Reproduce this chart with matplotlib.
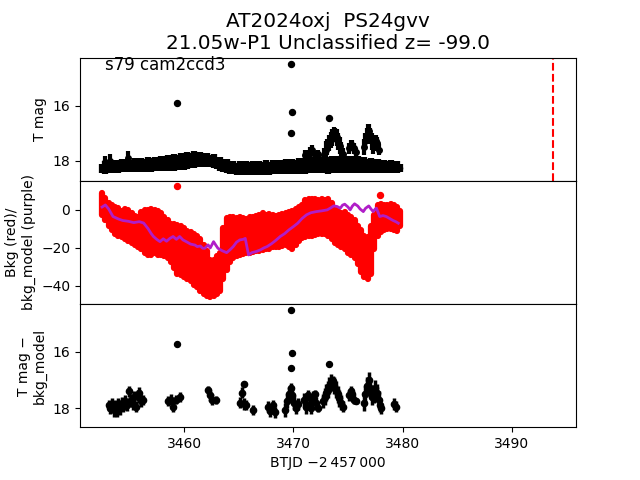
import matplotlib.pyplot as plt

# lightcurve (binned), T mag with errors
t_band = [3452.5, 3452.8, 3453.1, 3453.4, 3453.7, 3454.0, 3454.3, 3454.6, 3454.9, 3455.2,
          3455.5, 3455.8, 3456.1, 3456.4, 3456.7, 3457.0, 3457.3, 3457.6, 3457.9, 3458.2,
          3458.5, 3458.8, 3459.1, 3459.4, 3459.7, 3460.0, 3460.3, 3460.6, 3460.9, 3461.2,
          3461.5, 3461.8, 3462.1, 3462.4, 3462.7, 3463.0, 3463.3, 3463.6, 3463.9, 3464.2,
          3464.5, 3464.8, 3465.1, 3465.4, 3465.7, 3466.0, 3466.3, 3466.6, 3466.9, 3467.2,
          3467.5, 3467.8, 3468.1, 3468.4, 3468.7, 3469.0, 3469.3, 3469.6, 3469.9, 3470.2,
          3470.5, 3470.8, 3471.1, 3471.4, 3471.7, 3472.0, 3472.3, 3472.6, 3472.9, 3473.2,
          3473.5, 3473.8, 3474.1, 3474.4, 3474.7, 3475.0, 3475.3, 3475.6, 3475.9, 3476.2,
          3476.5, 3476.8, 3477.1, 3477.4, 3477.7, 3478.0, 3478.3, 3478.6, 3478.9, 3479.2,
          3479.5, 3479.8]
mag_band = [18.28, 18.24, 18.21, 18.22, 18.19, 18.21, 18.18, 18.19, 18.17, 18.19,
            18.16, 18.18, 18.15, 18.17, 18.14, 18.15, 18.12, 18.13, 18.11, 18.11,
            18.08, 18.09, 18.06, 18.07, 18.03, 18.03, 17.99, 18.00, 17.96, 17.97,
            17.95, 17.97, 17.96, 18.00, 18.01, 18.08, 18.11, 18.18, 18.20, 18.26,
            18.26, 18.29, 18.27, 18.28, 18.27, 18.29, 18.26, 18.28, 18.26, 18.27,
            18.24, 18.27, 18.24, 18.25, 18.23, 18.24, 18.22, 18.23, 18.21, 18.22,
            18.19, 18.21, 18.18, 18.19, 18.16, 18.18, 18.15, 18.16, 18.15, 18.17,
            18.14, 18.16, 18.13, 18.16, 18.13, 18.16, 18.13, 18.16, 18.14, 18.17,
            18.14, 18.18, 18.17, 18.18, 18.18, 18.21, 18.20, 18.23, 18.22, 18.24,
            18.23, 18.26]
err_band = [0.17, 0.23, 0.24, 0.22, 0.23, 0.23, 0.24, 0.23, 0.25, 0.23,
            0.25, 0.23, 0.25, 0.25, 0.26, 0.25, 0.27, 0.26, 0.28, 0.27,
            0.29, 0.28, 0.30, 0.28, 0.30, 0.29, 0.31, 0.28, 0.30, 0.27,
            0.27, 0.24, 0.24, 0.21, 0.24, 0.22, 0.25, 0.23, 0.25, 0.22,
            0.24, 0.22, 0.25, 0.24, 0.25, 0.24, 0.25, 0.24, 0.26, 0.24,
            0.27, 0.24, 0.26, 0.25, 0.27, 0.25, 0.27, 0.25, 0.28, 0.26,
            0.29, 0.26, 0.29, 0.27, 0.30, 0.28, 0.30, 0.29, 0.31, 0.30,
            0.31, 0.28, 0.31, 0.29, 0.31, 0.28, 0.31, 0.29, 0.30, 0.27,
            0.29, 0.26, 0.27, 0.25, 0.26, 0.24, 0.24, 0.21, 0.23, 0.20,
            0.21, 0.14]

# brighter excursions / spikes in the lightcurve
flare_t = [3452.75, 3453.2, 3454.9, 3471.1, 3471.3, 3471.55, 3471.75, 3471.95, 3472.3,
           3472.8, 3472.95, 3473.1, 3473.25, 3473.4, 3473.55, 3473.7, 3473.8, 3473.95,
           3474.1, 3474.25, 3474.4, 3474.5,
           3475.1, 3475.25, 3475.4, 3475.55, 3475.7,
           3476.5, 3476.6, 3476.75, 3476.85, 3476.95, 3477.05, 3477.2, 3477.3,
           3477.45, 3477.55, 3477.65, 3477.8]
flare_mag = [18.05, 18.0, 17.9, 17.8, 17.8, 17.7, 17.62, 17.8, 17.75,
             17.8, 17.6, 17.5, 17.35, 17.25, 17.15, 17.05, 17.02, 17.15,
             17.3, 17.45, 17.6, 17.75,
             17.55, 17.45, 17.42, 17.55, 17.7,
             17.5, 17.3, 17.1, 16.95, 16.93, 17.1, 17.3, 17.5,
             17.45, 17.3, 17.35, 17.6]
flare_err = [0.23, 0.25, 0.26, 0.2, 0.18, 0.2, 0.2, 0.15, 0.15,
             0.25, 0.3, 0.3, 0.3, 0.3, 0.3, 0.28, 0.21, 0.3,
             0.3, 0.3, 0.28, 0.22,
             0.2, 0.2, 0.18, 0.2, 0.15,
             0.3, 0.3, 0.3, 0.27, 0.25, 0.3, 0.3, 0.25,
             0.2, 0.25, 0.22, 0.2]
out_t = [3459.4, 3469.8, 3469.85, 3469.8, 3473.3]
out_mag = [15.9, 14.48, 16.23, 16.98, 16.45]

# background (red) range per bin and background model (purple)
bkg_max = [9.0, 6.5, 3.5, 2.5, 1.5, 1.0, -0.5, 0.5, 0.0, -1.5,
           -3.0, -3.5, -1.0, 0.0, 0.0, 0.5, 0.0, -0.5, -1.5, -3.5,
           -5.5, -7.5, -7.5, -8.0, -8.5, -9.5, -11.0, -11.5, -12.5, -13.5,
           -15.5, -18.5, -21.5, -26.5, -26.5, -24.5, -22.5, -9.5, -4.5, -3.5,
           -4.0, -4.5, -4.0, -4.5, -5.0, -4.0, -3.5, -3.0, -2.5, -1.5,
           -2.5, -2.0, -2.5, -3.0, -2.5, -2.0, -1.5, -1.0, -0.5, 0.5,
           1.5, 2.5, 5.0, 5.5, 5.5, 5.5, 5.0, 5.5, 5.0, 5.5,
           3.5, 0.5, -0.5, -1.5, -1.0, -2.5, -3.5, -5.5, -8.5, -10.5,
           -13.5, -14.5, -8.5, -2.5, 2.5, 3.0, 2.5, 2.5, 3.0, 2.5,
           1.5, -0.5]
bkg_min = [-2.5, -5.5, -8.5, -10.5, -12.5, -13.5, -14.5, -15.5, -16.5, -17.5,
           -18.5, -19.5, -20.5, -22.5, -23.5, -23.5, -22.5, -23.5, -23.5, -24.5,
           -25.5, -27.5, -30.5, -33.5, -34.5, -35.5, -36.5, -37.5, -39.5, -40.5,
           -42.5, -44.5, -45.5, -46.0, -45.5, -44.5, -42.5, -36.5, -31.5, -27.5,
           -25.5, -24.5, -23.5, -23.0, -22.5, -22.5, -22.0, -21.5, -21.5, -21.0,
           -20.5, -20.5, -19.5, -19.5, -19.5, -19.0, -18.5, -19.5, -20.5, -18.5,
           -16.5, -15.0, -14.5, -13.5, -13.5, -13.0, -12.5, -12.5, -12.5, -13.5,
           -15.5, -17.5, -18.5, -19.5, -20.5, -22.5, -23.5, -25.5, -28.5, -32.5,
           -35.5, -36.5, -33.5, -20.5, -13.5, -11.5, -10.5, -10.0, -10.0, -10.5,
           -11.0, -8.5]
bkg_out_t = [3459.4, 3477.9]
bkg_out = [12.5, 7.9]

model_t = [3452.5, 3452.8, 3453.1, 3453.5, 3454.0, 3454.4, 3454.9, 3455.4, 3455.9, 3456.3,
           3456.7, 3457.0, 3457.2, 3457.5, 3457.8, 3458.1, 3458.4, 3458.7, 3459.0, 3459.3,
           3459.6, 3459.9, 3460.2, 3460.6, 3461.0, 3461.2, 3461.5, 3461.7, 3461.9, 3462.2,
           3462.4, 3462.7, 3462.9, 3463.1, 3463.5, 3463.9, 3464.2, 3464.5, 3464.8, 3465.1,
           3465.4, 3465.6, 3465.9, 3466.2, 3466.6, 3467.0, 3467.3, 3467.6, 3468.0, 3468.4,
           3468.8, 3469.2, 3469.6, 3470.0, 3470.4, 3470.8, 3471.2, 3471.6, 3472.1, 3472.6,
           3473.1, 3473.4, 3473.7, 3474.0, 3474.3, 3474.5, 3474.7, 3475.0, 3475.2, 3475.4,
           3475.6, 3475.9, 3476.1, 3476.4, 3476.6, 3476.9, 3477.1, 3477.3, 3477.5, 3477.6,
           3477.8, 3477.9, 3478.2, 3478.5, 3478.8, 3479.1, 3479.4, 3479.6]
model_bkg = [1.5, 2.6, 0.5, -3.5, -4.8, -5.6, -6.0, -6.7, -6.2, -6.9,
             -9.8, -12.5, -14.0, -15.5, -16.7, -15.2, -16.5, -15.0, -14.0, -15.5,
             -14.0, -15.8, -16.7, -18.0, -18.5, -19.3, -19.0, -20.2, -20.2, -18.4,
             -20.0, -16.7, -18.5, -20.2, -21.5, -22.5, -21.0, -19.3, -17.0, -15.8,
             -15.5, -15.0, -23.7, -22.5, -21.9, -21.0, -20.0, -19.3, -17.8, -16.0,
             -14.0, -12.5, -10.5, -8.8, -7.0, -4.5, -2.6, -1.5, -0.9, -0.5,
             0.0, 1.0, 2.1, 1.8, 0.9, 2.5, 3.0, 1.5, 0.0, 2.0,
             3.2, 2.0, 0.5, -0.9, 0.8, 2.1, 0.5, -0.9, 0.5, 0.9,
             -2.0, -3.5, -3.0, -3.5, -4.5, -5.5, -6.3, -7.0]

# T mag - bkg_model
diff_t = [3453.1, 3453.25, 3453.4, 3453.55, 3453.7, 3453.85, 3454.0, 3454.15, 3454.3, 3454.45,
          3454.6, 3454.75, 3455.0, 3455.15, 3455.3, 3455.45, 3455.6, 3455.75, 3455.9, 3456.05,
          3456.2,
          3458.5, 3458.8, 3459.0, 3459.3, 3459.6,
          3462.2, 3462.4, 3462.6, 3462.9,
          3465.1, 3465.3, 3465.5, 3465.5, 3465.7, 3466.35,
          3467.7, 3467.9, 3468.1, 3468.3,
          3469.2, 3469.4, 3469.6, 3469.75, 3469.9, 3470.05, 3470.25, 3470.4,
          3471.0, 3471.15, 3471.3, 3471.5, 3471.65, 3471.8, 3471.95, 3472.1, 3472.25,
          3472.7, 3472.85, 3473.0, 3473.15, 3473.3, 3473.45, 3473.6, 3473.75, 3473.9, 3474.05,
          3474.2, 3474.35, 3474.5,
          3475.1, 3475.25, 3475.4, 3475.55, 3475.7,
          3476.45, 3476.6, 3476.75, 3476.9, 3477.05, 3477.2, 3477.35, 3477.5, 3477.65, 3477.8,
          3477.95, 3478.05,
          3479.25, 3479.4]
diff_mag = [17.9, 18.0, 17.85, 18.05, 17.9, 18.1, 17.85, 18.0, 17.8, 17.95,
            17.75, 17.9, 17.4, 17.7, 17.85, 17.6, 17.95, 17.55, 17.45, 17.75,
            17.7,
            17.75, 17.7, 17.95, 17.7, 17.6,
            17.35, 17.55, 17.7, 17.72,
            17.8, 17.45, 17.14, 17.85, 17.9, 18.08,
            17.95, 18.1, 17.9, 18.15,
            18.05, 17.75, 17.5, 17.3, 17.55, 17.8, 18.0, 17.85,
            17.7, 17.95, 17.55, 17.85, 18.0, 17.6, 17.5, 17.8, 18.0,
            17.75, 17.6, 17.45, 17.35, 17.2, 17.1, 17.05, 17.2, 17.35, 17.5,
            17.65, 17.8, 17.95,
            17.55, 17.4, 17.5, 17.7, 17.75,
            17.8, 17.5, 17.2, 17.0, 17.3, 17.6, 17.5, 17.3, 17.45, 17.7,
            17.9, 18.0,
            17.85, 17.95]
diff_err = [0.2, 0.22, 0.2, 0.25, 0.2, 0.22, 0.22, 0.25, 0.2, 0.2,
            0.22, 0.2, 0.2, 0.22, 0.22, 0.2, 0.2, 0.2, 0.22, 0.2,
            0.18,
            0.18, 0.2, 0.2, 0.15, 0.18,
            0.15, 0.2, 0.2, 0.15,
            0.2, 0.2, 0.03, 0.2, 0.18, 0.18,
            0.2, 0.2, 0.2, 0.2,
            0.25, 0.25, 0.25, 0.2, 0.25, 0.25, 0.2, 0.2,
            0.25, 0.25, 0.2, 0.25, 0.2, 0.2, 0.15, 0.2, 0.15,
            0.25, 0.3, 0.3, 0.3, 0.3, 0.3, 0.19, 0.3, 0.3, 0.3,
            0.3, 0.25, 0.2,
            0.2, 0.19, 0.2, 0.15, 0.12,
            0.3, 0.3, 0.3, 0.27, 0.3, 0.3, 0.3, 0.3, 0.3, 0.3,
            0.25, 0.2,
            0.2, 0.2]
diff_out_t = [3459.4, 3469.8, 3469.85, 3469.8, 3473.3]
diff_out = [15.73, 14.5, 16.05, 16.58, 16.44]

t_disc = 3493.75

fig, axes = plt.subplots(3, 1, sharex=True, figsize=(6.4, 4.8), dpi=100)
fig.subplots_adjust(hspace=0)
ax1, ax2, ax3 = axes

# LIGHTCURVE
ax1.errorbar(t_band, mag_band, yerr=err_band, fmt='o', color='k', ms=3, elinewidth=4.5, capsize=0)
ax1.errorbar(flare_t, flare_mag, yerr=flare_err, fmt='o', color='k', ms=4, elinewidth=3, capsize=0)
ax1.plot(out_t, out_mag, 'ko', ms=4.3)
ax1.axvline(t_disc, color='r', ls='--', lw=1.5)
ax1.set_ylim(18.73, 14.25)
ax1.set_yticks([16, 18])
ax1.set_ylabel("T mag")
ax1.text(0.05, 0.9, "s79 cam2ccd3", transform=ax1.transAxes, fontsize=12)
ax1.set_title("AT2024oxj  PS24gvv\n21.05w-P1 Unclassified z= -99.0", fontsize='x-large')

# BACKGROUND
ax2.vlines(t_band, bkg_min, bkg_max, colors='r', linewidth=4.5, capstyle='round')
ax2.plot(bkg_out_t, bkg_out, 'ro', ms=4.3)
ax2.plot(model_t, model_bkg, color='#b01ec8', lw=2)
ax2.set_ylim(-49.5, 15.3)
ax2.set_yticks([-40, -20, 0])
ax2.set_ylabel("Bkg (red)/\nbkg_model (purple)")

# DIFFERENCE
ax3.errorbar(diff_t, diff_mag, yerr=diff_err, fmt='o', color='k', ms=4.5, elinewidth=2.5, capsize=0)
ax3.plot(diff_out_t, diff_out, 'ko', ms=4.3)
ax3.set_ylim(18.68, 14.29)
ax3.set_yticks([16, 18])
ax3.set_ylabel("T mag \u2212\nbkg_model")
ax3.set_xlabel("BTJD \u22122\u2009457\u2009000")

for ax in (ax1, ax2):
    ax.tick_params(axis='x', bottom=False)
ax3.set_xlim(3450.48, 3495.86)
ax3.set_xticks([3460, 3470, 3480, 3490])

fig.savefig("out.png", dpi=100)
